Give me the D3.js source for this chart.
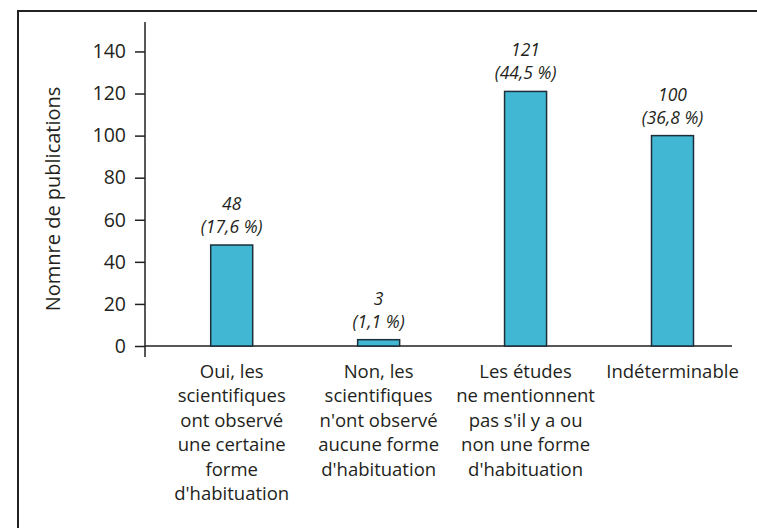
<!DOCTYPE html>
<html>
<head>
<meta charset="utf-8">
<script src="https://cdn.jsdelivr.net/npm/d3@7"></script>
<style>
body{margin:0;background:#fff;}
text{font-family:"Open Sans","Noto Sans",sans-serif;fill:#231f20;}
</style>
</head>
<body>
<div id="root"></div>
<script>
// data
var categories=['oui','non','etudes','indet'];
var catLabels=[
	['Oui, les','scientifiques','ont observé','une certaine','forme',"d'habituation"],
	['Non, les','scientifiques',"n'ont observé",'aucune forme',"d'habituation"],
	['Les études','ne mentionnent',"pas s'il y a ou",'non une forme',"d'habituation"],
	['Indéterminable']
];
var counts=[48,3,121,100];
var percents=['17,6 %','1,1 %','44,5 %','36,8 %'];
var yTicks=[0,20,40,60,80,100,120,140];
var yTitle='Nomnre de publications';

var W=757,H=528;

var svg=d3.select('#root').append('svg')
	.attr('width',W)
	.attr('height',H);

// frame (cropped on right and bottom)
svg.append('path')
	.attr('d','M18,'+(H+5)+'V11H'+(W+5))
	.attr('fill','none')
	.attr('stroke','#222')
	.attr('stroke-width',2);

var scaleY=d3.scaleLinear().domain([0,154]).range([346,22]);
var scaleX=d3.scalePoint().domain(categories).range([231.7,672.5]);
var barW=42;

// y axis
var yAxis=d3.axisLeft(scaleY).tickValues(yTicks).tickSize(10).tickSizeOuter(0).tickPadding(9);
var yg=svg.append('g').attr('transform','translate(145,0)').call(yAxis);
yg.select('.domain').remove();
yg.selectAll('.tick line').attr('stroke','#231f20').attr('stroke-width',1.5);
yg.selectAll('.tick text').style('font-size','19.5px').attr('fill','#231f20');
svg.append('line')
	.attr('x1',145).attr('x2',145)
	.attr('y1',scaleY(154)).attr('y2',scaleY(0)+11)
	.attr('stroke','#231f20').attr('stroke-width',1.5);

// x axis line
svg.append('line')
	.attr('x1',145).attr('x2',732)
	.attr('y1',scaleY(0)).attr('y2',scaleY(0))
	.attr('stroke','#231f20').attr('stroke-width',1.5);

// y title
svg.append('text')
	.attr('transform','translate(60,199) rotate(-90)')
	.attr('text-anchor','middle')
	.style('font-size','20px')
	.text(yTitle);

// bars
svg.selectAll('.bar').data(counts).enter().append('rect')
	.attr('class','bar')
	.attr('x',function(d,i){return scaleX(categories[i])-barW/2})
	.attr('y',function(d){return scaleY(d)})
	.attr('width',barW)
	.attr('height',function(d){return scaleY(0)-scaleY(d)})
	.attr('fill','#42b7d3')
	.attr('stroke','#1c2e38')
	.attr('stroke-width',1.5);

// value labels
var vl=svg.selectAll('.val').data(counts).enter().append('text')
	.attr('class','val')
	.attr('text-anchor','middle')
	.style('font-size','17.5px')
	.style('font-style','italic');
vl.append('tspan')
	.attr('x',function(d,i){return scaleX(categories[i])})
	.attr('y',function(d){return scaleY(d)-35})
	.text(function(d){return d});
vl.append('tspan')
	.attr('x',function(d,i){return scaleX(categories[i])})
	.attr('y',function(d){return scaleY(d)-12})
	.text(function(d,i){return '('+percents[i]+')'});

// category labels
var cl=svg.selectAll('.cat').data(catLabels).enter().append('text')
	.attr('class','cat')
	.attr('text-anchor','middle')
	.style('font-size','18.5px');
cl.selectAll('tspan').data(function(d,i){return d.map(function(s){return {s:s,i:i}})}).enter().append('tspan')
	.attr('x',function(d){return scaleX(categories[d.i])})
	.attr('y',function(d,j){return 377.5+j*24.5})
	.text(function(d){return d.s});
</script>
</body>
</html>
